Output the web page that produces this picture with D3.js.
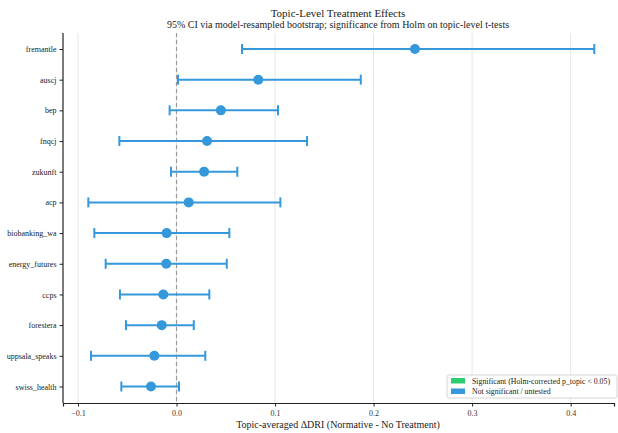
<!DOCTYPE html>
<html><head><meta charset="utf-8">
<script src="https://cdn.jsdelivr.net/npm/d3@7"></script>
<style>body{margin:0;background:#fff}svg{font-family:"Liberation Serif","DejaVu Serif",serif}</style>
</head><body>
<svg id="c" width="618" height="433"></svg>
<script>
const topics = ["fremantle","auscj","bep","fnqcj","zukunft","acp","biobanking_wa","energy_futures","ccps","forestera","uppsala_speaks","swiss_health"];
const estimates = [0.242,0.083,0.045,0.031,0.028,0.0124,-0.010,-0.0104,-0.0134,-0.015,-0.0225,-0.0259];
const ciLow = [0.0665,0.0015,-0.007,-0.058,-0.0056,-0.0895,-0.0834,-0.0719,-0.0574,-0.0513,-0.0868,-0.056];
const ciHigh = [0.424,0.187,0.103,0.1325,0.0617,0.1054,0.0536,0.051,0.0333,0.0175,0.0292,0.0025];
const significant = [false,false,false,false,false,false,false,false,false,false,false,false];
const xTicks = [-0.1,0,0.1,0.2,0.3,0.4];
const legendItems = [{label:"Significant (Holm-corrected p_topic < 0.05)",color:"#2ecc71"},{label:"Not significant / untested",color:"#3498db"}];

const svg = d3.select("#c");
const L=63, R=614, T=33, B=403;
const x = d3.scaleLinear().domain([-0.1152,0.444]).range([L,R]);
const y = d3.scalePoint().domain(topics).range([49,386.5]);

svg.append("text").attr("x",338).attr("y",17).attr("text-anchor","middle").attr("font-size",11).attr("fill","#222").text("Topic-Level Treatment Effects");
svg.append("text").attr("x",338).attr("y",27.5).attr("text-anchor","middle").attr("font-size",10).attr("fill","#222").text("95% CI via model-resampled bootstrap; significance from Holm on topic-level t-tests");

// grid
svg.append("g").selectAll("line").data(xTicks).join("line")
  .attr("x1",d=>x(d)).attr("x2",d=>x(d)).attr("y1",T).attr("y2",B)
  .attr("stroke","#e6e6e6").attr("stroke-width",1);
// zero line
svg.append("line").attr("x1",x(0)).attr("x2",x(0)).attr("y1",T).attr("y2",B)
  .attr("stroke","#999").attr("stroke-width",1.2).attr("stroke-dasharray","4,3");

const rows = topics.map((t,i)=>({t,e:estimates[i],lo:ciLow[i],hi:ciHigh[i],s:significant[i]}));
const g = svg.append("g");
const col = d=>d.s?"#2ecc71":"#3498db";
g.selectAll(".eb").data(rows).join("line").attr("x1",d=>x(d.lo)).attr("x2",d=>x(d.hi))
  .attr("y1",d=>y(d.t)).attr("y2",d=>y(d.t)).attr("stroke",col).attr("stroke-width",2);
g.selectAll(".cl").data(rows).join("line").attr("x1",d=>x(d.lo)).attr("x2",d=>x(d.lo))
  .attr("y1",d=>y(d.t)-5).attr("y2",d=>y(d.t)+5).attr("stroke",col).attr("stroke-width",2);
g.selectAll(".ch").data(rows).join("line").attr("x1",d=>x(d.hi)).attr("x2",d=>x(d.hi))
  .attr("y1",d=>y(d.t)-5).attr("y2",d=>y(d.t)+5).attr("stroke",col).attr("stroke-width",2);
g.selectAll("circle").data(rows).join("circle").attr("cx",d=>x(d.e)).attr("cy",d=>y(d.t)).attr("r",5).attr("fill",col);

// axes
const fmt = d=>d3.format(".1f")(d).replace("-","\u2212");
const xa = svg.append("g").attr("transform",`translate(0,${B})`)
  .call(d3.axisBottom(x).tickValues(xTicks).tickFormat(fmt).tickSize(3.5));
xa.attr("font-family",null);
xa.select(".domain").attr("stroke","#222").attr("stroke-width",1.2);
xa.selectAll("text").attr("font-size",8).attr("fill","#333").attr("dy","0.85em");
xa.selectAll("line").attr("stroke","#222");
const ya = svg.append("g").attr("transform",`translate(${L},0)`)
  .call(d3.axisLeft(y).tickSize(3.5).tickSizeOuter(0));
ya.attr("font-family",null);
ya.select(".domain").attr("stroke","#222").attr("stroke-width",1.2).attr("d",`M0,${T}V${B}`);
ya.selectAll("text").attr("font-size",8).attr("fill","#222");
ya.selectAll("line").attr("stroke","#222");

svg.append("text").attr("x",338).attr("y",428).attr("text-anchor","middle").attr("font-size",10).attr("fill","#222").text("Topic-averaged ΔDRI (Normative - No Treatment)");

// legend
const lg = svg.append("g");
lg.append("rect").attr("x",447).attr("y",375).attr("width",170).attr("height",23).attr("rx",2)
  .attr("fill","#fff").attr("fill-opacity",0.85).attr("stroke","#ccc").attr("stroke-width",0.8);
legendItems.forEach((it,i)=>{
  lg.append("rect").attr("x",451).attr("y",378+i*10.5).attr("width",14).attr("height",5.5).attr("fill",it.color);
  lg.append("text").attr("x",472).attr("y",383.8+i*10.5).attr("font-size",7.8).attr("fill","#222").text(it.label);
});
</script>
</body></html>
